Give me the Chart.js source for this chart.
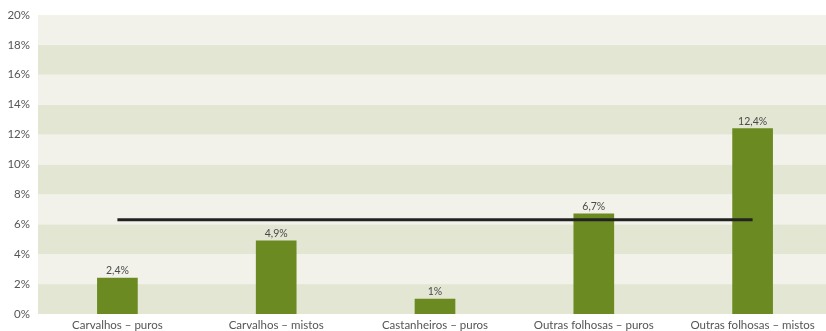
<!DOCTYPE html>
<html lang="pt">
<head>
<meta charset="UTF-8">
<title>Povoamentos de folhosas</title>
<style>
    html, body { margin: 0; padding: 0; background: #ffffff; overflow: hidden; }
    /* a área do gráfico prolonga-se um pouco para lá da margem direita */
    .chart-box { width: 832px; height: 331px; }
</style>
<script src="https://cdn.jsdelivr.net/npm/chart.js@4"></script>
</head>
<body>
<div class="chart-box">
    <canvas id="grafico"></canvas>
</div>
<script>
    // Dados
    const categorias = ['Carvalhos – puros', 'Carvalhos – mistos', 'Castanheiros – puros', 'Outras folhosas – puros', 'Outras folhosas – mistos'];
    const valores = [2.4, 4.9, 1, 6.7, 12.4];
    const media = [6.3, 6.3, 6.3, 6.3, 6.3];
    const escalaMax = 20;
    const escalaPasso = 2;

    const corBarra = '#6b8a21';
    const corFaixaClara = '#f2f2ea';
    const corFaixaEscura = '#e3e6d2';
    const fonte = 'Lato, sans-serif';

    // Faixas alternadas por trás das barras
    const faixas = {
        id: 'faixas',
        beforeDatasetsDraw(chart) {
            const { ctx, chartArea, scales } = chart;
            const y = scales.y;
            ctx.save();
            for (let v = 0; v < escalaMax; v += escalaPasso) {
                const topo = y.getPixelForValue(v + escalaPasso);
                const base = y.getPixelForValue(v);
                ctx.fillStyle = (v / escalaPasso) % 2 === 0 ? corFaixaEscura : corFaixaClara;
                ctx.fillRect(chartArea.left, topo, chartArea.right - chartArea.left, base - topo);
            }
            ctx.restore();
        }
    };

    // Rótulos com o valor por cima de cada barra
    const rotulos = {
        id: 'rotulos',
        afterDatasetsDraw(chart) {
            const { ctx } = chart;
            const meta = chart.getDatasetMeta(1);
            ctx.save();
            ctx.font = '10.5px ' + fonte;
            ctx.fillStyle = '#4a4a4a';
            ctx.textAlign = 'center';
            ctx.textBaseline = 'bottom';
            meta.data.forEach((barra, i) => {
                const texto = String(valores[i]).replace('.', ',') + '%';
                ctx.fillText(texto, barra.x, barra.y - 2);
            });
            ctx.restore();
        }
    };

    new Chart(document.getElementById('grafico'), {
        data: {
            labels: categorias,
            datasets: [
                {
                    type: 'line',
                    data: media,
                    borderColor: '#222222',
                    borderWidth: 3,
                    pointRadius: 0,
                    order: 0
                },
                {
                    type: 'bar',
                    data: valores,
                    backgroundColor: corBarra,
                    barThickness: 40,
                    order: 1
                }
            ]
        },
        options: {
            responsive: true,
            maintainAspectRatio: false,
            animation: false,
            layout: { padding: { top: 8, right: 0, left: 0, bottom: 0 } },
            plugins: {
                legend: { display: false },
                tooltip: { enabled: false }
            },
            scales: {
                x: {
                    grid: { display: false, drawTicks: false },
                    border: { display: false },
                    ticks: {
                        color: '#555555',
                        font: { family: fonte, size: 11.5 },
                        padding: 4,
                        maxRotation: 0,
                        autoSkip: false
                    },
                    afterFit(scale) { scale.height = 17; }
                },
                y: {
                    min: 0,
                    max: escalaMax,
                    grid: { display: false, drawTicks: false },
                    border: { display: false },
                    ticks: {
                        stepSize: escalaPasso,
                        color: '#555555',
                        font: { family: fonte, size: 11.5 },
                        padding: 8,
                        callback: v => v + '%'
                    },
                    afterFit(scale) { scale.width = 38; }
                }
            }
        },
        plugins: [faixas, rotulos]
    });
</script>
</body>
</html>
